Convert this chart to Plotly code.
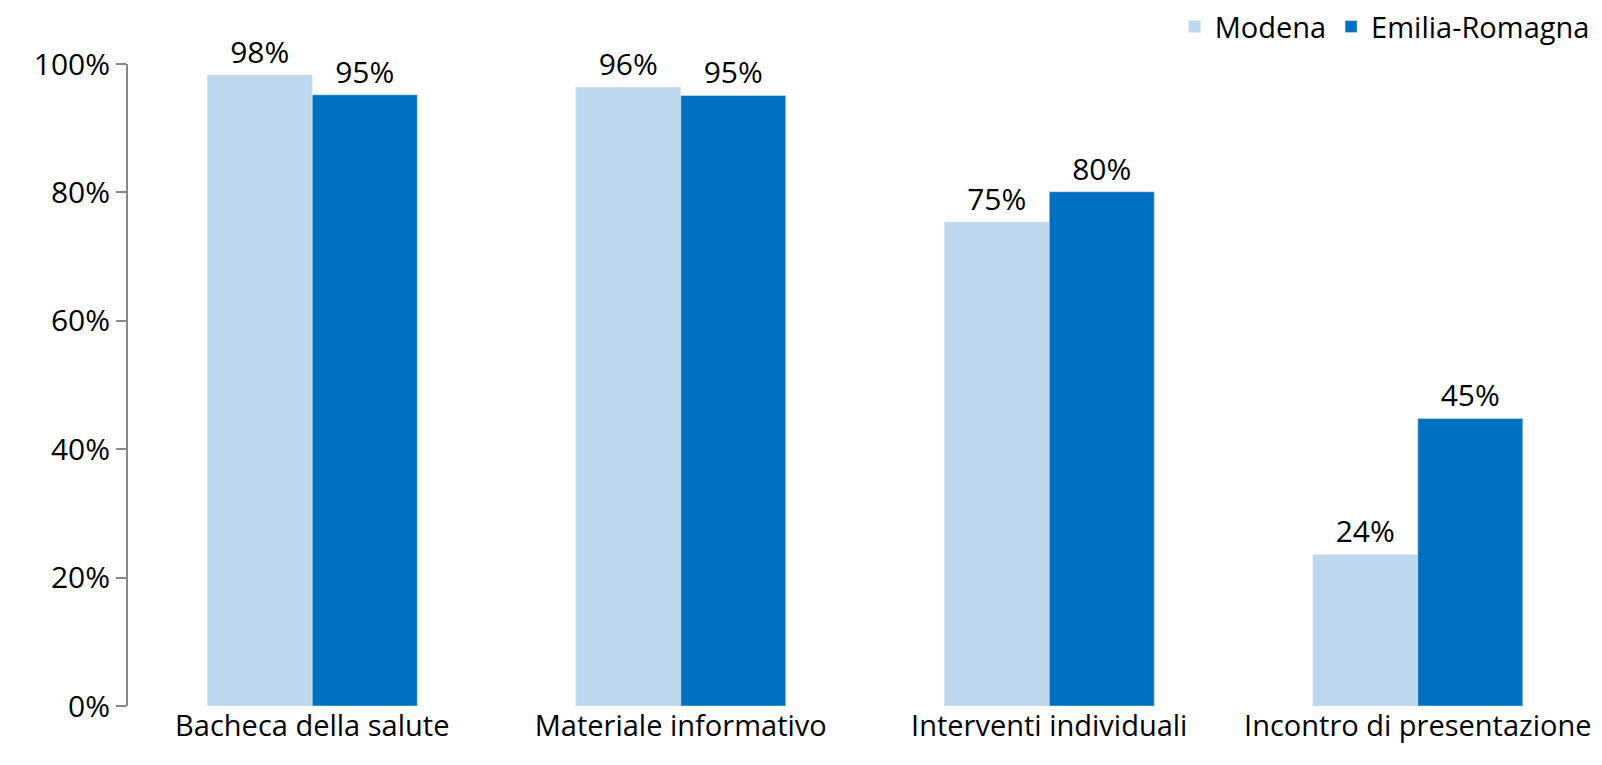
import plotly.graph_objects as go

categories = ["Bacheca della salute", "Materiale informativo", "Interventi individuali", "Incontro di presentazione"]
modena = [98.3, 96.4, 75.4, 23.6]
emilia = [95.2, 95.1, 80.1, 44.8]
tick_vals = [0, 20, 40, 60, 80, 100]
tick_text = ["0%", "20%", "40%", "60%", "80%", "100%"]

FONT = "Open Sans"
SIZE = 30
fig = go.Figure()
fig.add_trace(go.Bar(name="Modena", x=categories, y=modena, marker_color="#BDD7EE",
                     texttemplate="%{y:.0f}%", textposition="outside", cliponaxis=False,
                     textfont=dict(size=SIZE, color="black", family=FONT)))
fig.add_trace(go.Bar(name="Emilia-Romagna", x=categories, y=emilia, marker_color="#0070C0",
                     texttemplate="%{y:.0f}%", textposition="outside", cliponaxis=False,
                     textfont=dict(size=SIZE, color="black", family=FONT)))

# page shows the figure with an 8px offset, so the figure is 8px smaller
fig.update_layout(
    width=1594, height=757,
    barmode="group", bargap=0.43, bargroupgap=0,
    plot_bgcolor="white", paper_bgcolor="white",
    margin=dict(l=120, r=0, t=56, b=59, autoexpand=False),
    font=dict(family=FONT, size=SIZE, color="black"),
    legend=dict(orientation="h", x=0.995, xanchor="right", y=1.058, yanchor="middle",
                font=dict(size=29), traceorder="normal", itemwidth=30,
                bgcolor="rgba(0,0,0,0)"),
)
fig.update_yaxes(range=[0, 100], tickvals=tick_vals, ticktext=tick_text,
                 showgrid=False, zeroline=False, showline=True, linecolor="#898989", linewidth=2,
                 ticks="outside", ticklen=10, tickcolor="#898989", tickwidth=2,
                 tickfont=dict(size=SIZE, color="black"), automargin=False)
fig.update_xaxes(showgrid=False, showline=False, ticks="", tickfont=dict(size=29, color="black"),
                 automargin=False)

fig.write_html("out.html")
